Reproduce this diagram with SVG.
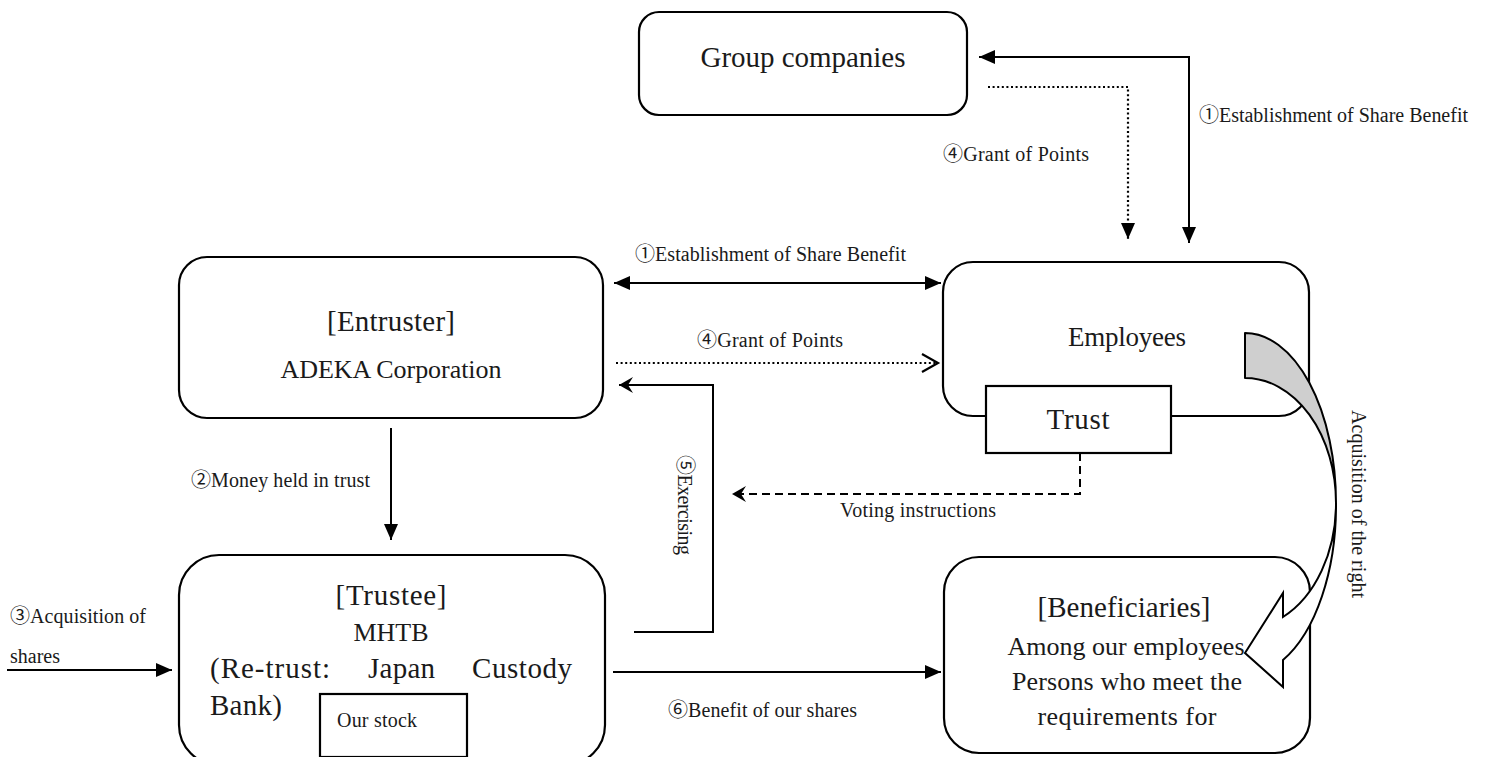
<svg xmlns="http://www.w3.org/2000/svg" width="1490" height="757" viewBox="0 0 1490 757">
<style>
  .box{fill:#fff;stroke:#000;stroke-width:2.2}
  .t{font-family:"Liberation Serif","Noto Sans CJK JP",serif;fill:#1a1a1a}
  .big{font-size:29px}
  .emp{font-size:27px}
  .mid{font-size:26px}
  .lbl{font-size:20px}
  .ln{fill:none;stroke:#000;stroke-width:2}
  .dot{fill:none;stroke:#000;stroke-width:2.2;stroke-dasharray:2 2.6}
  .dash{fill:none;stroke:#000;stroke-width:2;stroke-dasharray:8 5}
</style>
<defs>
  <marker id="tri" viewBox="0 0 16 14" refX="16" refY="7" markerWidth="16" markerHeight="14" markerUnits="userSpaceOnUse" orient="auto-start-reverse">
    <path d="M0,0 L16,7 L0,14 z" fill="#000"/>
  </marker>
  <marker id="stealth" viewBox="0 0 14 16" refX="14" refY="8" markerWidth="14" markerHeight="16" markerUnits="userSpaceOnUse" orient="auto">
    <path d="M0,0 L14,8 L0,16 L5,8 z" fill="#000"/>
  </marker>
  <marker id="chev" viewBox="-2 -2 20 22" refX="16" refY="9" markerWidth="20" markerHeight="22" markerUnits="userSpaceOnUse" orient="auto" overflow="visible">
    <path d="M0,0 L16,9 L0,18" fill="none" stroke="#000" stroke-width="2.2"/>
  </marker>
</defs>

<g id="group-companies">
  <rect class="box" x="639" y="12" width="328" height="103" rx="20"/>
  <text class="t big" x="803" y="67" text-anchor="middle" textLength="205">Group companies</text>
</g>

<g id="entruster">
  <rect class="box" x="179" y="257" width="424" height="161" rx="28"/>
  <text class="t big" x="391" y="331" text-anchor="middle" textLength="128">[Entruster]</text>
  <text class="t mid" x="391" y="378" text-anchor="middle" textLength="221">ADEKA Corporation</text>
</g>

<g id="employees">
  <rect class="box" x="943" y="262" width="366" height="154" rx="30"/>
  <text class="t emp" x="1127" y="346" text-anchor="middle" textLength="118">Employees</text>
</g>

<g id="trust">
  <rect class="box" x="986" y="386" width="185" height="67"/>
  <text class="t big" x="1078" y="429" text-anchor="middle" textLength="63">Trust</text>
</g>

<g id="trustee">
  <rect class="box" x="179" y="555" width="426" height="210" rx="40"/>
  <text class="t big" x="391" y="605" text-anchor="middle" textLength="111">[Trustee]</text>
  <text class="t mid" x="391" y="641" text-anchor="middle" textLength="75">MHTB</text>
  <text class="t big" x="210" y="678" textLength="120">(Re-trust:</text>
  <text class="t big" x="368" y="678" textLength="67">Japan</text>
  <text class="t big" x="472" y="678" textLength="100">Custody</text>
  <text class="t big" x="210" y="715" textLength="72">Bank)</text>
</g>

<g id="our-stock">
  <rect class="box" x="320" y="694" width="147" height="63"/>
  <text class="t lbl" x="337" y="727" textLength="80">Our stock</text>
</g>

<g id="beneficiaries">
  <rect class="box" x="944" y="557" width="366" height="196" rx="35"/>
  <text class="t big" x="1124" y="617" text-anchor="middle" textLength="173">[Beneficiaries]</text>
  <text class="t mid" x="1126" y="655" text-anchor="middle" textLength="237">Among our employees</text>
  <text class="t mid" x="1127" y="690" text-anchor="middle" textLength="230">Persons who meet the</text>
  <text class="t mid" x="1127" y="725" text-anchor="middle" textLength="179">requirements for</text>
</g>

<g id="connectors">
  <path class="ln" d="M979,57 H1189 V243" marker-start="url(#tri)" marker-end="url(#tri)"/>
  <path class="dot" d="M988,87 H1128 V239" marker-end="url(#tri)"/>
  <path class="ln" d="M614,283 H941" marker-start="url(#tri)" marker-end="url(#tri)"/>
  <path class="dot" d="M616,363 H938" marker-end="url(#chev)"/>
  <path class="ln" d="M634,632 H713 V385 H619" marker-end="url(#stealth)"/>
  <path class="ln" d="M391,428 V540" marker-end="url(#tri)"/>
  <path class="dash" d="M1080,453 V494 H732" marker-end="url(#stealth)"/>
  <path class="ln" d="M7,670 H172" marker-end="url(#tri)"/>
  <path class="ln" d="M613,672 H941" marker-end="url(#tri)"/>

  <text class="t lbl" x="1199" y="122" textLength="269">①Establishment of Share Benefit</text>
  <text class="t lbl" x="1089" y="161" text-anchor="end" textLength="146">④Grant of Points</text>
  <text class="t lbl" x="635" y="261" textLength="271">①Establishment of Share Benefit</text>
  <text class="t lbl" x="697" y="347" textLength="146">④Grant of Points</text>
  <text class="t lbl" x="370" y="487" text-anchor="end" textLength="179">②Money held in trust</text>
  <text class="t lbl" transform="translate(678,505) rotate(90)" text-anchor="middle" textLength="100">⑤Exercising</text>
  <text class="t lbl" x="840" y="517" textLength="156">Voting instructions</text>
  <text class="t lbl" x="10" y="623" textLength="136">③Acquisition of</text>
  <text class="t lbl" x="10" y="663">shares</text>
  <text class="t lbl" x="668" y="717" textLength="189">⑥Benefit of our shares</text>
</g>

<g id="acquisition-arrow">
  <path d="M1245,333 A91,170 0 0 1 1336,503 A91,125 0 0 0 1245,378 Z" fill="#cfcfcf" stroke="#000" stroke-width="2" stroke-linejoin="round"/>
  <path d="M1336,503 A91,170 0 0 1 1283,660 L1283,687 L1245,653 L1283,593 L1283,617 A91,125 0 0 0 1336,503 Z" fill="#fff" stroke="#000" stroke-width="2" stroke-linejoin="miter"/>
  <text class="t lbl" transform="translate(1352,504) rotate(90)" text-anchor="middle" textLength="188">Acquisition of the right</text>
</g>
</svg>
